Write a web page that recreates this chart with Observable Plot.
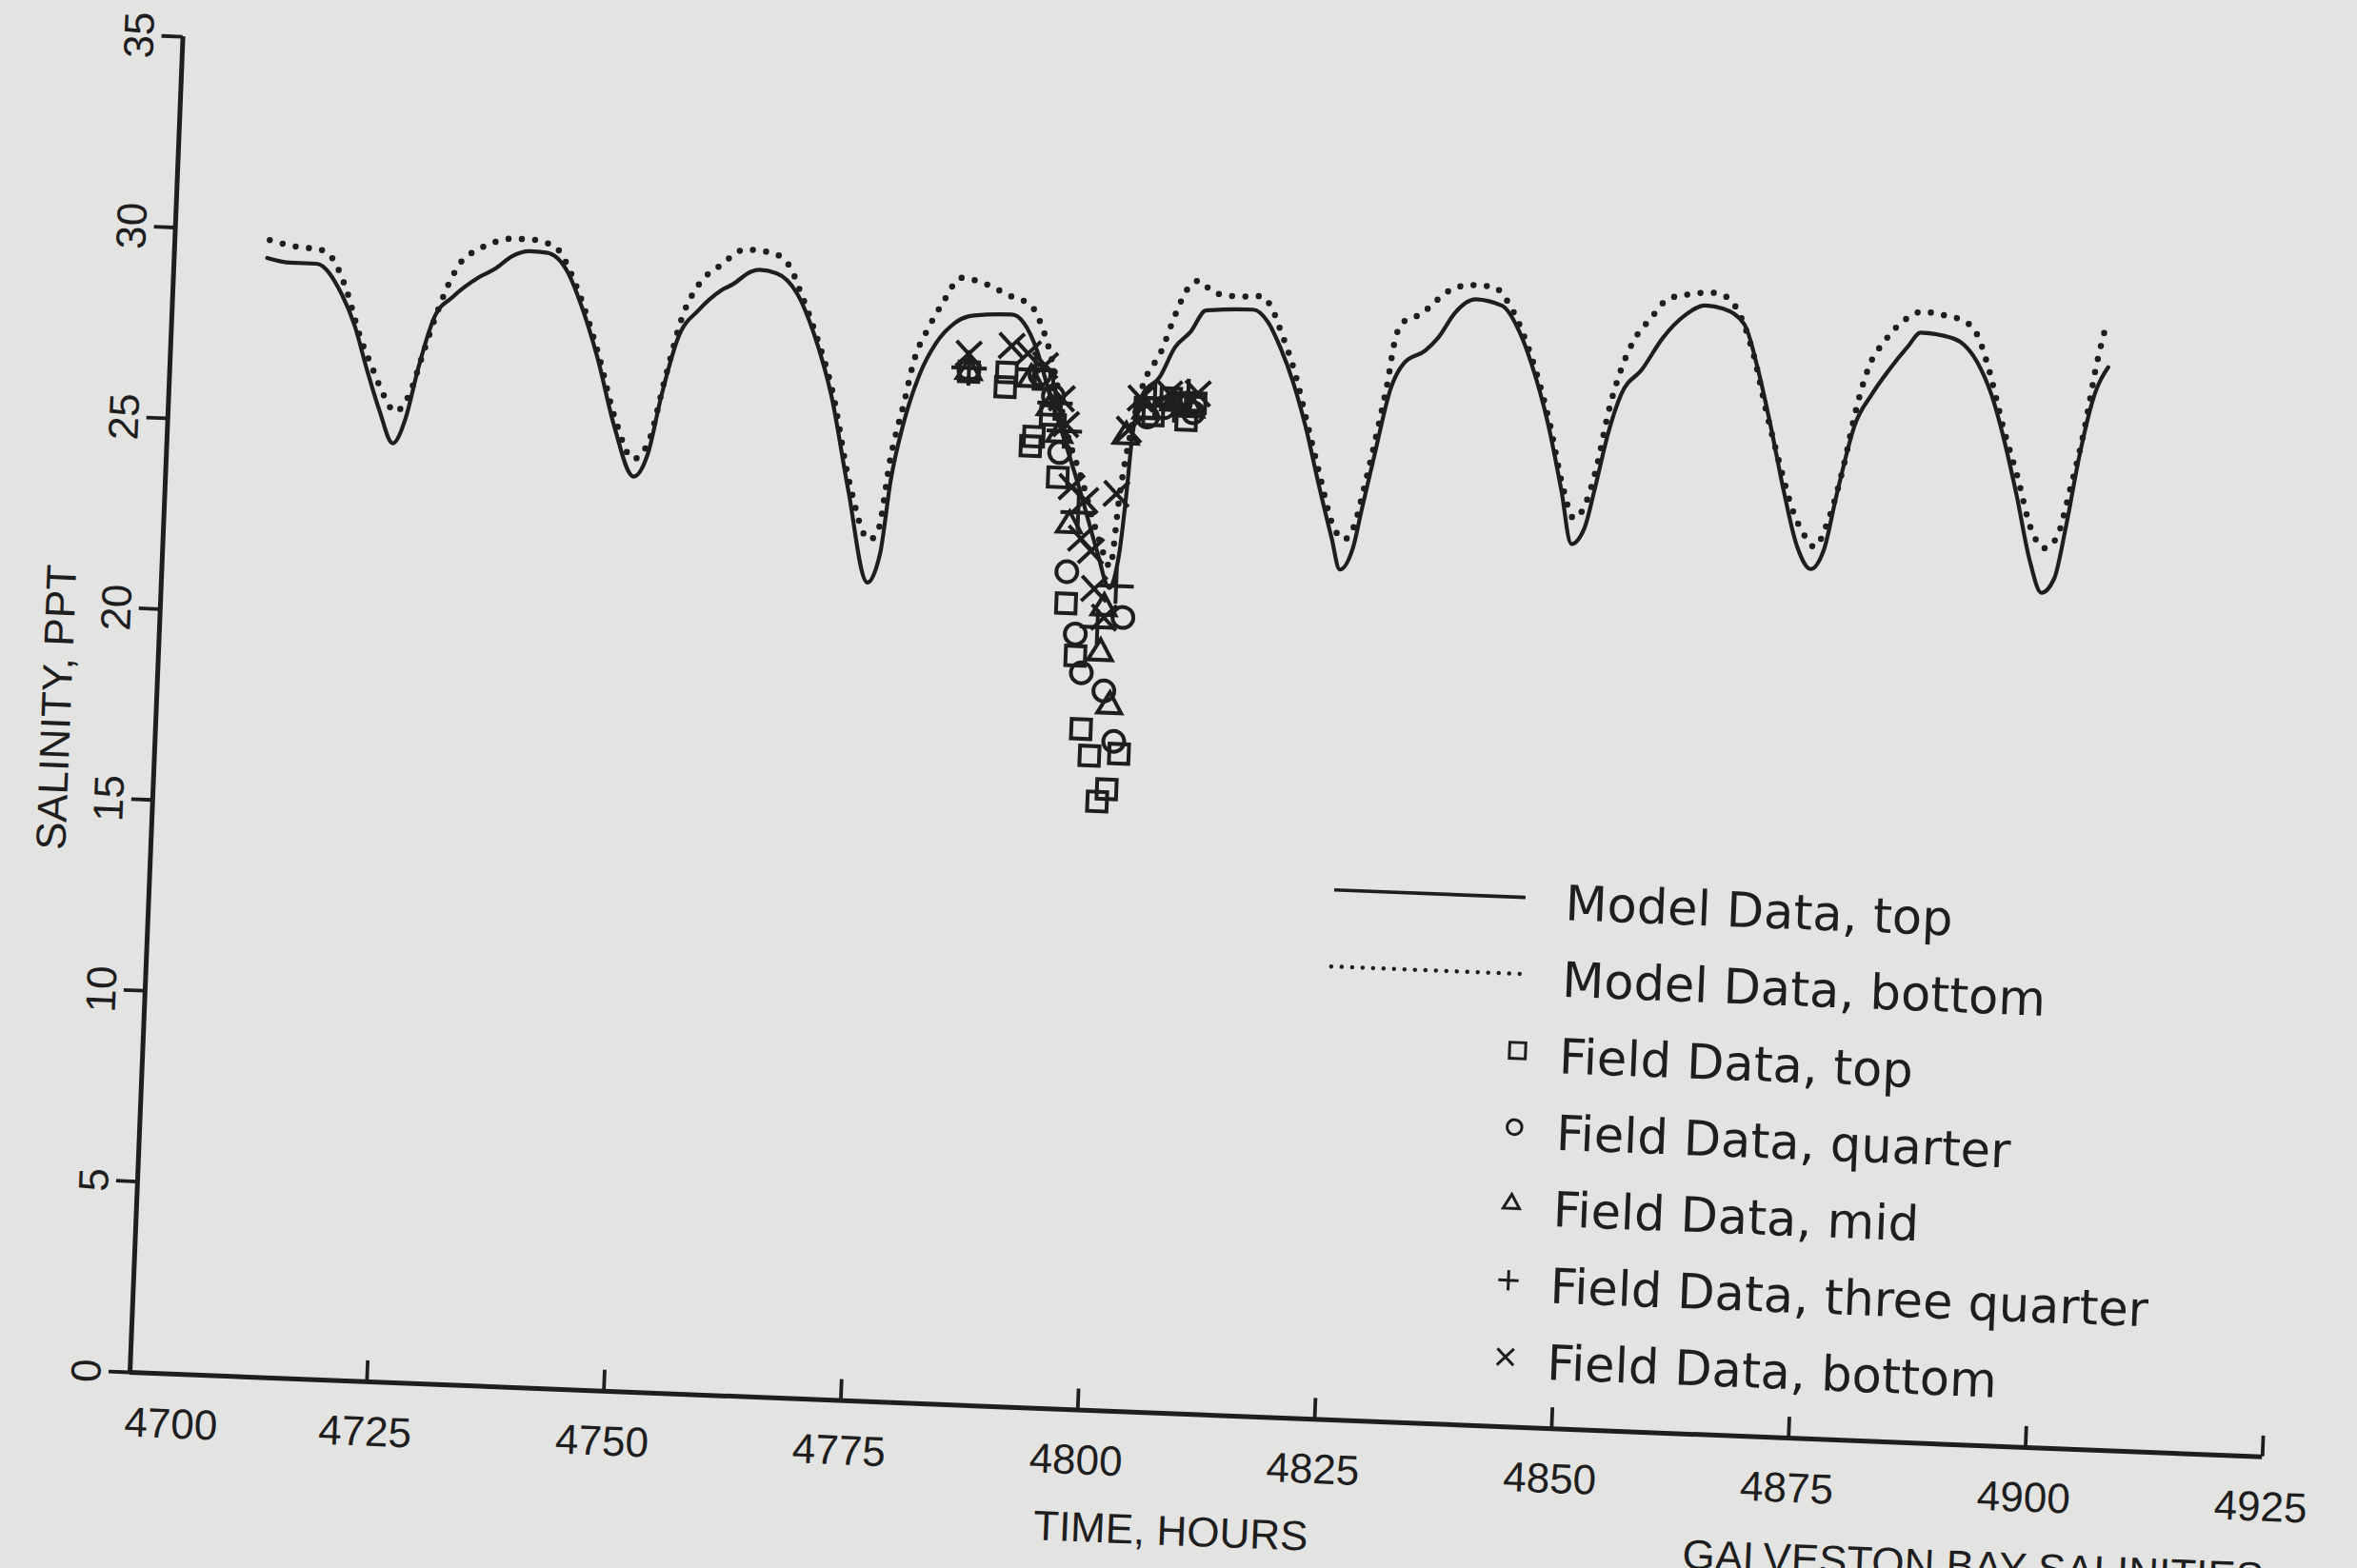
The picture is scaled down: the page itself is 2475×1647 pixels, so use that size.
<!DOCTYPE html>
<html>
<head>
<meta charset="utf-8">
<script src="https://cdn.jsdelivr.net/npm/d3@7"></script>
<script src="https://cdn.jsdelivr.net/npm/@observablehq/plot@0.6"></script>
<style>
  html, body { margin: 0; padding: 0; width: 2475px; height: 1647px; overflow: hidden; background: #e3e3e1; }
  #stage { position: absolute; left: 0; top: 0; width: 2475px; height: 1647px;
           transform-origin: 136px 1441px; transform: rotate(2.27deg); }
  #chart { position: absolute; left: 26px; top: 0; }
  #legend { position: absolute; left: 1366px; top: 841px; }
  #caption { position: absolute; left: 1773px; top: 1546px; font: 44px "Liberation Sans", Arial, sans-serif;
             line-height: 1; color: #1e1e1e; white-space: nowrap; }
</style>
</head>
<body>
<div id="stage">
  <div id="chart"></div>
  <div id="legend"></div>
  <div id="caption">GALVESTON BAY SALINITIES</div>
</div>
<script>
// ---------- data ----------
const xTickValues = [4725, 4750, 4775, 4800, 4825, 4850, 4875, 4900, 4925];
const xLabelTicks = [4725, 4750, 4775, 4800, 4825, 4850, 4875, 4900, 4925];
const xFirstTick = [4700];
const yTicks = [0, 5, 10, 15, 20, 25, 30, 35];

const modelTopHours = [4709.8,4712.3,4715.0,4717.8,4719.3,4720.8,4722.3,4723.8,4725.05,4726.2,4727.7,4729.5,4732.1,4733.9,4735.6,4737.4,4739.2,4741.5,4742.9,4745.0,4747.1,4749.3,4750.75,4751.9,4753.4,4755.5,4757.7,4759.0,4760.8,4761.7,4763.5,4765.8,4767.75,4769.8,4772.0,4774.4,4775.6,4776.4,4777.55,4779.0,4780.6,4782.5,4784.5,4788.5,4789.8,4791.3,4792.8,4794.3,4796.5,4798.5,4799.9,4800.8,4801.3,4801.7,4802.6,4804.3,4805.8,4807.4,4808.9,4813.9,4815.5,4816.9,4818.4,4819.9,4821.5,4823.1,4824.1,4825.4,4826.1,4827.2,4828.7,4830.0,4832.2,4833.5,4835.2,4837.3,4840.1,4842.0,4843.4,4845.5,4847.1,4848.4,4849.7,4850.6,4851.8,4853.0,4855.1,4857.2,4859.4,4861.5,4863.4,4865.7,4867.3,4868.9,4870.5,4872.2,4873.7,4875.0,4876.1,4877.7,4879.4,4881.2,4883.0,4884.3,4886.6,4888.5,4890.4,4892.0,4893.5,4895.1,4896.8,4898.1,4899.4,4900.4,4901.5,4902.7,4904.2];
const modelTopSal = [29.30,29.2,29.2,28.43,27.62,26.46,25.4,24.58,25.25,26.6,27.95,28.47,29.0,29.26,29.6,29.75,29.73,29.25,28.5,27.04,25.23,23.96,24.6,26.1,27.62,28.39,28.91,29.1,29.44,29.5,29.43,28.91,27.86,26.29,23.81,21.43,22.2,24.1,25.66,26.92,27.76,28.31,28.53,28.59,28.38,27.67,26.54,25.53,23.98,22.45,21.54,22.47,24.02,25.6,26.64,27.1,27.9,28.33,28.9,28.97,28.66,28.01,27.11,25.96,24.48,23.08,22.26,22.85,23.78,25.2,27.05,27.73,28.08,28.43,29.11,29.47,29.33,28.68,27.86,26.22,24.57,23.17,23.6,24.61,26.11,27.13,27.81,28.67,29.27,29.55,29.48,29.09,27.94,26.45,24.81,23.32,22.76,23.27,24.7,26.54,27.39,28.08,28.68,29.06,29.01,28.86,28.34,27.52,26.37,24.89,23.16,22.38,22.77,24.11,25.95,27.46,28.35];

const modelBottomHours = [4710.0,4712.7,4715.4,4716.6,4718.2,4720.0,4721.3,4722.7,4723.9,4725.4,4726.6,4727.8,4729.0,4730.2,4732.0,4733.8,4735.6,4737.4,4739.2,4740.1,4741.0,4742.4,4745.0,4747.2,4749.2,4750.7,4752.2,4753.8,4755.4,4757.6,4760.2,4762.9,4764.8,4766.2,4767.8,4769.9,4772.1,4774.4,4775.3,4776.3,4777.5,4778.3,4779.8,4781.1,4783.0,4785.65,4788.1,4790.45,4791.9,4793.0,4794.5,4796.6,4798.6,4799.9,4800.6,4801.7,4802.5,4804.4,4805.8,4806.8,4808.1,4809.5,4810.9,4812.2,4814.7,4815.9,4816.9,4818.5,4820.0,4821.6,4823.2,4824.4,4825.4,4826.3,4827.55,4828.3,4829.0,4829.8,4831.6,4833.3,4834.6,4836.9,4839.1,4840.5,4842.1,4843.5,4845.6,4847.2,4848.55,4849.8,4850.8,4851.7,4852.9,4854.1,4855.8,4857.5,4859.7,4862.2,4863.8,4865.2,4866.8,4868.3,4870.0,4871.5,4873.05,4874.0,4875.3,4876.9,4877.6,4878.9,4880.6,4882.85,4884.4,4886.5,4888.9,4890.4,4891.4,4893.6,4895.1,4896.7,4898.2,4899.5,4900.7,4901.9,4903.0,4903.8];
const modelBottomSal = [29.77,29.63,29.57,29.38,28.6,27.28,26.55,25.81,25.41,25.92,26.94,27.95,28.79,29.38,29.74,29.96,30.06,30.06,29.98,29.9,29.62,28.93,27.2,25.4,24.42,24.85,26.53,28.21,29.06,29.58,30.02,29.96,29.65,28.92,27.95,26.4,24.0,22.55,22.8,24.72,26.18,27.21,28.18,28.8,29.5,29.36,29.09,28.85,28.19,27.36,25.8,24.3,22.8,22.1,24.0,25.9,26.8,27.8,28.82,29.41,29.67,29.4,29.32,29.3,29.33,29.0,28.43,27.4,26.1,24.7,23.4,23.05,23.4,24.4,26.04,27.13,28.38,28.81,29.03,29.43,29.69,29.84,29.82,29.5,28.8,27.95,26.3,24.7,23.84,24.3,25.3,26.61,27.79,28.55,29.15,29.67,29.82,29.89,29.78,29.33,28.3,26.9,25.47,24.32,23.58,23.34,24.02,25.7,26.71,28.05,28.82,29.43,29.61,29.55,29.4,29.0,28.35,26.5,25.39,24.07,23.55,23.85,25.11,26.62,28.46,29.43];

const fieldTopHours = [4784.2,4788.2,4788.1,4792.1,4793.0,4791.3,4791.0,4794.0,4795.4,4796.6,4797.5,4798.5,4801.6,4800.45,4799.5,4802.9,4803.8,4805.6,4807.3,4808.2];
const fieldTopSal   = [27.05,27.07,26.69,26.93,26.0,25.42,25.17,24.38,21.09,19.73,17.82,17.13,17.21,16.27,15.94,26.29,26.1,26.57,26.01,26.47];

const fieldQuarterHours = [4784.2,4791.7,4793.2,4794.1,4795.35,4796.5,4797.3,4799.75,4801.45,4801.0,4803.2,4804.9,4806.6,4808.0];
const fieldQuarterSal   = [27.1,27.05,26.5,25.03,21.92,20.3,19.29,18.84,20.78,17.53,26.05,26.31,26.45,26.21];

const fieldMidHours = [4784.2,4790.75,4792.9,4794.0,4795.4,4799.4,4799.2,4800.4,4801.0,4803.0,4805.9,4807.8];
const fieldMidSal   = [27.05,26.92,26.19,25.5,23.14,21.01,19.83,18.45,25.52,26.2,26.44,26.3];

const fieldThreeQuarterHours = [4784.2,4791.2,4793.4,4794.5,4796.3,4798.8,4800.6,4803.9,4806.0,4807.4];
const fieldThreeQuarterSal   = [27.15,27.17,26.32,25.6,23.48,20.5,21.6,26.55,26.4,26.63];

const fieldBottomHours = [4784.1,4788.6,4790.35,4792.2,4794.1,4794.65,4795.5,4797.0,4796.7,4797.8,4798.3,4799.45,4800.25,4801.3,4802.4,4805.4,4808.4];
const fieldBottomSal   = [27.52,27.77,27.59,27.3,26.45,25.78,24.14,23.81,22.8,22.49,21.5,20.76,24.01,25.7,26.53,26.69,26.72];

const legendLabels = ["Model Data, top","Model Data, bottom","Field Data, top","Field Data, quarter","Field Data, mid","Field Data, three quarter","Field Data, bottom"];

// ---------- build tables ----------
const zip = (hs, ss) => hs.map((h, i) => ({hour: h, sal: ss[i]}));
const modelTop = zip(modelTopHours, modelTopSal);
const modelBottom = zip(modelBottomHours, modelBottomSal);
const fieldTop = zip(fieldTopHours, fieldTopSal);
const fieldQuarter = zip(fieldQuarterHours, fieldQuarterSal);
const fieldMid = zip(fieldMidHours, fieldMidSal);
const fieldThreeQuarter = zip(fieldThreeQuarterHours, fieldThreeQuarterSal);
const fieldBottom = zip(fieldBottomHours, fieldBottomSal);

const ink = "#1e1e1e";
const innerH = 1404;

const chart = Plot.plot({
  width: 2411, height: 1574,
  marginLeft: 110, marginRight: 60, marginTop: 37, marginBottom: 133,
  style: {background: "transparent", fontFamily: "'Liberation Sans', Arial, sans-serif", fontSize: "44px", color: ink, overflow: "visible"},
  x: {domain: [4700, 4925], label: null},
  y: {domain: [0, 35], label: null},
  marks: [
    Plot.ruleY([0], {stroke: ink, strokeWidth: 5}),
    Plot.ruleX([4700], {stroke: ink, strokeWidth: 5}),
    Plot.ruleX(xTickValues, {stroke: ink, strokeWidth: 3.8, insetTop: innerH - 22}),
    Plot.axisX({ticks: xLabelTicks, tickSize: 0, tickPadding: 36, tickFormat: d => String(d), label: null}),
    Plot.axisX({ticks: xFirstTick, tickSize: 0, tickPadding: 36, dx: 45, tickFormat: d => String(d), label: null}),
    Plot.axisY({ticks: yTicks, tickSize: 22, tickRotate: -90, tickPadding: 9, strokeWidth: 3.8, tickFormat: d => String(d), label: null}),
    Plot.text(["TIME, HOURS"], {text: d => d, frameAnchor: "bottom", textAnchor: "middle", lineAnchor: "middle", dx: -22, dy: 124, fill: ink}),
    Plot.text(["SALINITY, PPT"], {text: d => d, frameAnchor: "left", textAnchor: "middle", lineAnchor: "middle", dx: -104, dy: 7, rotate: -90, fill: ink}),
    Plot.line(modelTop, {x: "hour", y: "sal", stroke: ink, strokeWidth: 4.2, curve: "monotone-x"}),
    Plot.line(modelBottom, {x: "hour", y: "sal", stroke: ink, strokeWidth: 6.5, strokeDasharray: "0 14", strokeLinecap: "round", curve: "monotone-x"}),
    Plot.dot(fieldTop, {x: "hour", y: "sal", symbol: "square2", r: 13, stroke: ink, strokeWidth: 4, fill: "none"}),
    Plot.dot(fieldQuarter, {x: "hour", y: "sal", symbol: "circle", r: 11, stroke: ink, strokeWidth: 4, fill: "none"}),
    Plot.dot(fieldMid, {x: "hour", y: "sal", symbol: "triangle2", r: 12, stroke: ink, strokeWidth: 4, fill: "none"}),
    Plot.dot(fieldThreeQuarter, {x: "hour", y: "sal", symbol: "plus", r: 12, stroke: ink, strokeWidth: 4, fill: "none"}),
    Plot.dot(fieldBottom, {x: "hour", y: "sal", symbol: "times", r: 12, stroke: ink, strokeWidth: 4, fill: "none"})
  ]
});
document.getElementById("chart").appendChild(chart);

// ---------- legend ----------
const lg = d3.select("#legend").append("svg").attr("width", 1080).attr("height", 620).style("overflow", "visible");
const rowY = i => 44 + 80.5 * i;
const symbols = [null, null, d3.symbolSquare2, d3.symbolCircle, d3.symbolTriangle2, d3.symbolPlus, d3.symbolTimes];
const sizes = [0, 0, 360, 190, 210, 150, 200];
legendLabels.forEach((lab, i) => {
  const y = rowY(i);
  if (i === 0) {
    lg.append("line").attr("x1", 14).attr("x2", 215).attr("y1", y).attr("y2", y)
      .attr("stroke", ink).attr("stroke-width", 3.6);
  } else if (i === 1) {
    lg.append("line").attr("x1", 14).attr("x2", 215).attr("y1", y).attr("y2", y)
      .attr("stroke", ink).attr("stroke-width", 4.5).attr("stroke-dasharray", "0 11").attr("stroke-linecap", "round");
  } else {
    lg.append("path").attr("d", d3.symbol(symbols[i], sizes[i])())
      .attr("transform", `translate(213,${y})`)
      .attr("fill", "none").attr("stroke", ink).attr("stroke-width", 3);
  }
  lg.append("text").attr("x", 257).attr("y", y + 22).text(lab)
    .attr("font-family", "'DejaVu Sans', sans-serif").attr("font-size", 51).attr("fill", ink);
});
</script>
</body>
</html>
